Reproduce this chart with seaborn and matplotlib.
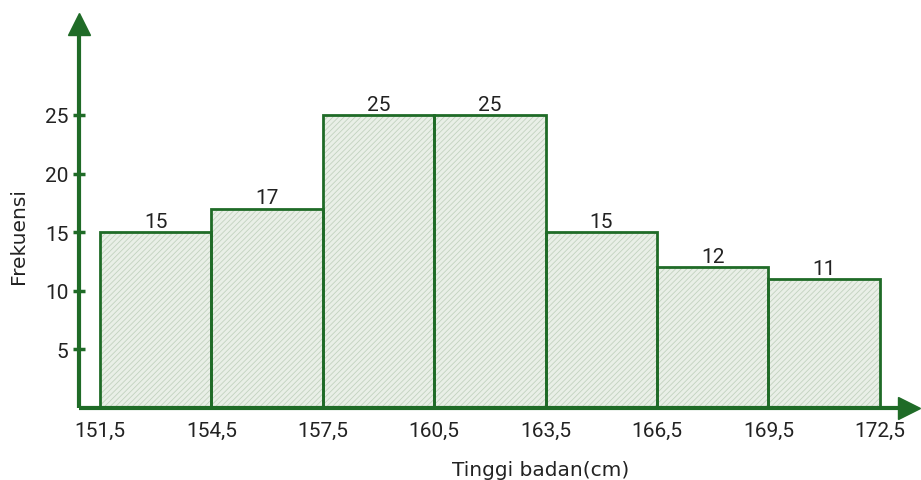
import matplotlib
matplotlib.use("Agg")
import matplotlib.pyplot as plt
import seaborn as sns
import numpy as np

# Data
edges = [151.5, 154.5, 157.5, 160.5, 163.5, 166.5, 169.5, 172.5]
freqs = [15, 17, 25, 25, 15, 12, 11]
edge_labels = ["151,5", "154,5", "157,5", "160,5", "163,5", "166,5", "169,5", "172,5"]
y_ticks = [5, 10, 15, 20, 25]
mids = [(a + b) / 2 for a, b in zip(edges[:-1], edges[1:])]

sns.set_theme(style="white")
plt.rcParams['font.family'] = ['Roboto', 'DejaVu Sans']
plt.rcParams['hatch.linewidth'] = 0.6

GREEN = "#1f6b27"
FACE = "#e9efe7"
HATCH = "#c2d2bf"
TXT = "#222222"

W, H = 921, 481
fig = plt.figure(figsize=(W / 100, H / 100), dpi=100)
x0, x1, y0, y1 = 79, 909, 409, 25
ax = fig.add_axes([x0 / W, (H - y0) / H, (x1 - x0) / W, (y0 - y1) / H])

px = 3 / 111.4
xmin = 151.5 - (100 - x0) * px
xmax = 151.5 + (x1 - 100) * px
ypx = 5 / 58.6
ymax = (y0 - y1) * ypx

# filled hatched bars
sns.histplot(x=mids, weights=freqs, bins=edges, ax=ax, color=FACE,
             edgecolor=HATCH, linewidth=0, alpha=1)
for p in ax.patches:
    p.set_hatch("//////")
    p.set_facecolor(FACE)
    p.set_edgecolor(HATCH)
    p.set_linewidth(0)
# outlines
sns.histplot(x=mids, weights=freqs, bins=edges, ax=ax, fill=False,
             color=GREEN, linewidth=2, element="bars")
for p in ax.patches[len(freqs):]:
    p.set_edgecolor(GREEN)
    p.set_linewidth(2)

for m, f in zip(mids, freqs):
    ax.text(m, f + 0.12, str(f), ha="center", va="bottom", fontsize=15, color=TXT)

ax.set_xlim(xmin, xmax)
ax.set_ylim(0, ymax)

for s in ["top", "right"]:
    ax.spines[s].set_visible(False)
for s in ["left", "bottom"]:
    ax.spines[s].set_color(GREEN)
    ax.spines[s].set_linewidth(3)
    ax.spines[s].set_capstyle("butt")

# arrow heads
ax.plot([0], [1], marker="^", ms=16, color=GREEN, transform=ax.transAxes, clip_on=False)
ax.plot([1], [0], marker=">", ms=16, color=GREEN, transform=ax.transAxes, clip_on=False)

ax.set_yticks(y_ticks)
ax.set_yticklabels([str(v) for v in y_ticks])
ax.tick_params(axis="y", direction="inout", length=9, width=2.5, color=GREEN,
               labelsize=15, labelcolor=TXT, pad=3, left=True)
ax.set_xticks(edges)
ax.set_xticklabels(edge_labels)
ax.tick_params(axis="x", length=0, labelsize=15, labelcolor=TXT, pad=9)

ax.set_xlabel("Tinggi badan(cm)", fontsize=14.5, color=TXT, family=["DejaVu Sans"])
ax.xaxis.set_label_coords((541 - x0) / (x1 - x0), -0.135)
ax.set_ylabel("Frekuensi", fontsize=14.5, color=TXT, family=["DejaVu Sans"])
ax.yaxis.set_label_coords(-0.062, 0.45)
ax.grid(False)

fig.savefig("out.png", dpi=100)
